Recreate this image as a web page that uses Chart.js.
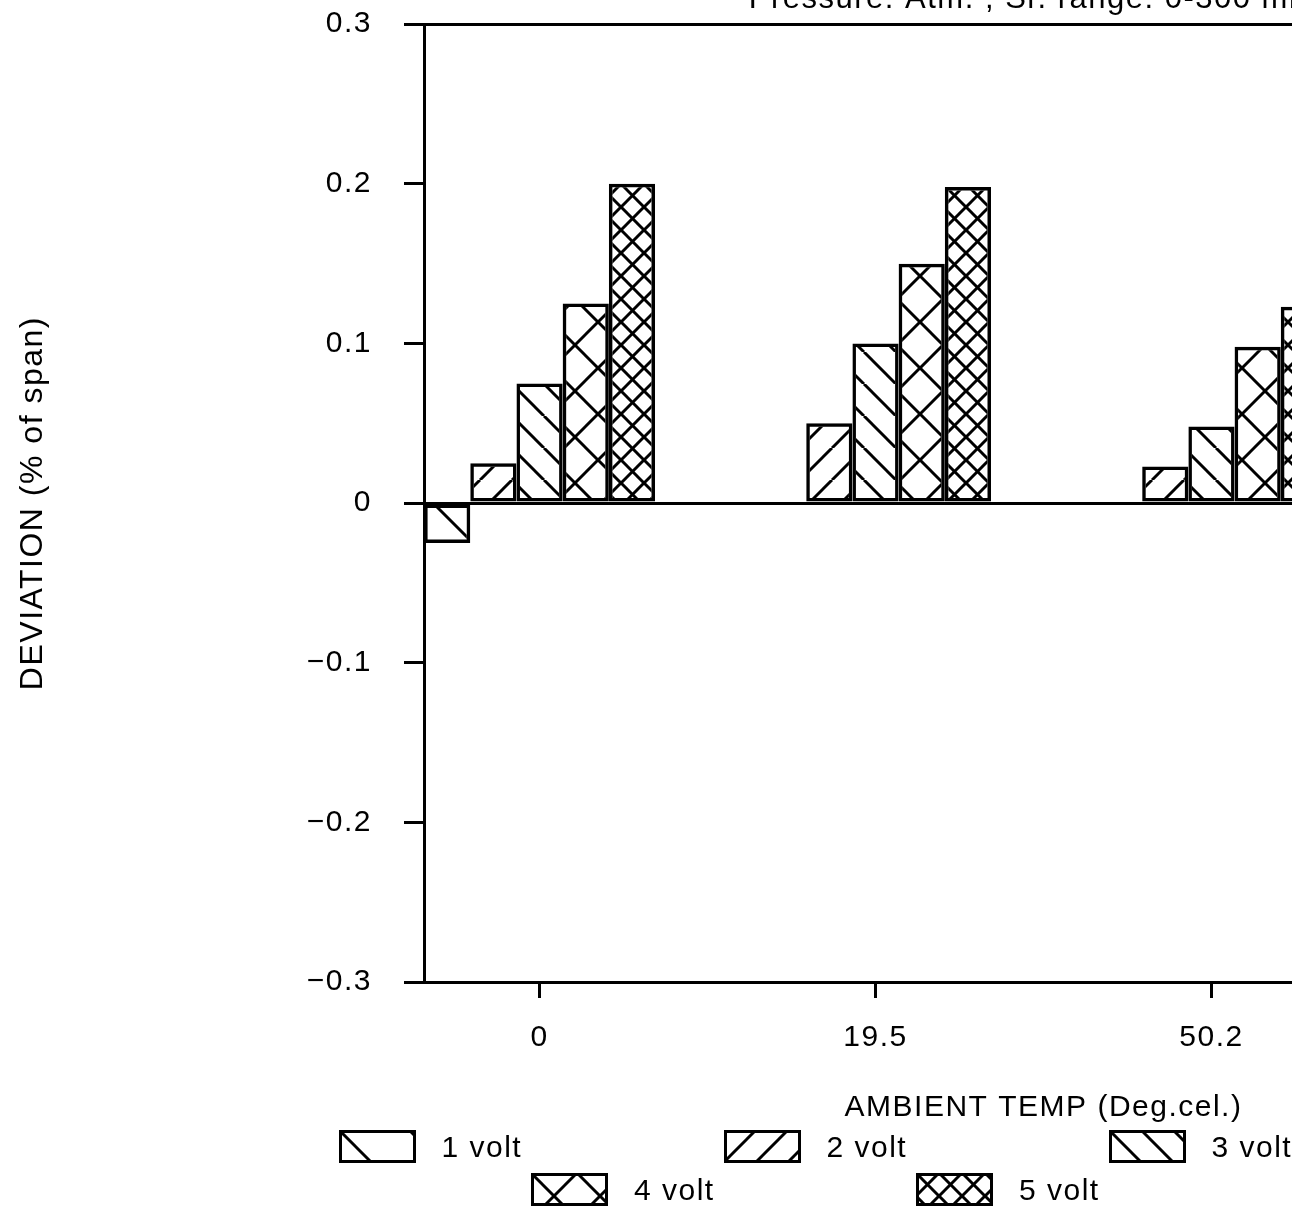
<!DOCTYPE html>
<html>
<head>
<meta charset="utf-8">
<script src="https://cdn.jsdelivr.net/npm/chart.js@4.4.1/dist/chart.umd.min.js"></script>
<style>
  html, body { margin: 0; padding: 0; background: #fff; overflow: hidden; width: 1292px; height: 1211px; }
  #wrap { position: relative; width: 1680px; height: 1211px; }
  #legend { position: absolute; left: 0; top: 1125px; width: 1832px;
            font: 30px "Liberation Sans", Arial, sans-serif; letter-spacing: 1.5px; color: #000; }
  .row { display: flex; justify-content: center; height: 43px; }
  .item { width: 385px; display: flex; align-items: center; }
  .item canvas { margin-right: 26px; }
</style>
</head>
<body>
<div id="wrap">
  <canvas id="chart" width="1680" height="1211"></canvas>
  <div id="legend"></div>
</div>
<script>
// values
const temps = ['0', '19.5', '50.2'];
const seriesNames = ['1 volt', '2 volt', '3 volt', '4 volt', '5 volt'];
const volt1 = [-0.025, 0, 0];
const volt2 = [0.025, 0.05, 0.023];
const volt3 = [0.075, 0.1, 0.048];
const volt4 = [0.125, 0.15, 0.098];
const volt5 = [0.2, 0.198, 0.123];
const yTicks = [-0.3, -0.2, -0.1, 0, 0.1, 0.2, 0.3];

// hatch tiles: size, directions
function makeTile(size, dirs) {
  const c = document.createElement('canvas');
  c.width = c.height = size;
  const g = c.getContext('2d');
  g.strokeStyle = '#000';
  g.lineWidth = 3;
  dirs.forEach(d => {
    for (let o = -size; o <= size; o += size) {
      g.beginPath();
      if (d === '\\') { g.moveTo(o, 0); g.lineTo(o + size, size); }
      else { g.moveTo(o, size); g.lineTo(o + size, 0); }
      g.stroke();
    }
  });
  return c;
}
const tiles = [
  makeTile(70, ['\\']),
  makeTile(32, ['/']),
  makeTile(32, ['\\']),
  makeTile(46, ['\\', '/']),
  makeTile(23, ['\\', '/'])
];

const ctx = document.getElementById('chart').getContext('2d');
const seriesValues = [volt1, volt2, volt3, volt4, volt5];

Chart.defaults.font.family = '"Liberation Sans", Arial, sans-serif';
Chart.defaults.font.size = 30;
Chart.defaults.color = '#000';

const spacing = {
  id: 'spacing',
  beforeLayout(c) { c.ctx.letterSpacing = '1.5px'; },
  beforeDraw(c) { c.ctx.letterSpacing = '1.5px'; }
};

new Chart(ctx, {
  type: 'bar',
  data: {
    datasets: seriesValues.map((vals, k) => ({
      label: seriesNames[k],
      data: vals.map((v, i) => ({ x: i, y: v })),
      backgroundColor: ctx.createPattern(tiles[k], 'repeat'),
      borderColor: '#000',
      borderWidth: 3.5,
      borderSkipped: false,
      categoryPercentage: 0.6875,
      barPercentage: 1
    }))
  },
  options: {
    responsive: false,
    animation: false,
    layout: { padding: { left: 0, right: 17, top: 0, bottom: 79 } },
    plugins: {
      legend: { display: false },
      tooltip: { enabled: false },
      title: {
        display: true,
        fullSize: false,
        text: 'Pressure: Atm. ; Sr. range: 0-300 mbar',
        font: { size: 31, weight: 'normal' },
        padding: { top: -19, bottom: 6 }
      }
    },
    scales: {
      x: {
        type: 'linear',
        min: -0.344,
        max: 3.344,
        offset: false,
        afterBuildTicks: s => { s.ticks = temps.map((t, i) => ({ value: i })); },
        afterFit: s => { s.height = 150; },
        ticks: { callback: (v, i) => temps[i], padding: 22, maxRotation: 0 },
        grid: { offset: false, drawOnChartArea: false, tickLength: 16, tickColor: '#000', tickWidth: 3 },
        border: { display: true, color: '#000', width: 3 },
        title: { display: true, text: 'AMBIENT TEMP (Deg.cel.)', padding: { top: 0, bottom: 6 } }
      },
      y: {
        min: -0.3,
        max: 0.3,
        afterBuildTicks: s => { s.ticks = yTicks.map(v => ({ value: v })); },
        afterFit: s => { s.width = 424; },
        ticks: {
          padding: 0,
          callback: v => (v === 0 ? '0' : v.toFixed(1).replace('-', '\u2212'))
        },
        grid: {
          // long tick slot, only the 20px next to the axis is inked
          tickLength: 52,
          tickBorderDash: [0, 32, 20],
          tickColor: '#000',
          tickWidth: 3,
          lineWidth: 3,
          color: c => (Math.abs(c.tick.value) < 1e-9 || Math.abs(c.tick.value) > 0.29 ? '#000' : 'rgba(0,0,0,0)')
        },
        border: { display: true, color: '#000', width: 3 },
        title: {
          display: true,
          text: 'DEVIATION (% of span)',
          font: { size: 32 },
          padding: { top: 14, bottom: 0 }
        }
      }
    }
  },
  plugins: [spacing]
});

// legend below the axis, three per row
const legend = document.getElementById('legend');
[[0, 1, 2], [3, 4]].forEach(idx => {
  const row = document.createElement('div');
  row.className = 'row';
  idx.forEach(k => {
    const item = document.createElement('div');
    item.className = 'item';
    const sw = document.createElement('canvas');
    sw.width = 77; sw.height = 33;
    const g = sw.getContext('2d');
    g.fillStyle = g.createPattern(tiles[k], 'repeat');
    g.fillRect(0, 0, 77, 33);
    g.strokeStyle = '#000';
    g.lineWidth = 3;
    g.strokeRect(1.5, 1.5, 74, 30);
    const label = document.createElement('span');
    label.textContent = seriesNames[k];
    item.appendChild(sw);
    item.appendChild(label);
    row.appendChild(item);
  });
  legend.appendChild(row);
});
</script>
</body>
</html>
